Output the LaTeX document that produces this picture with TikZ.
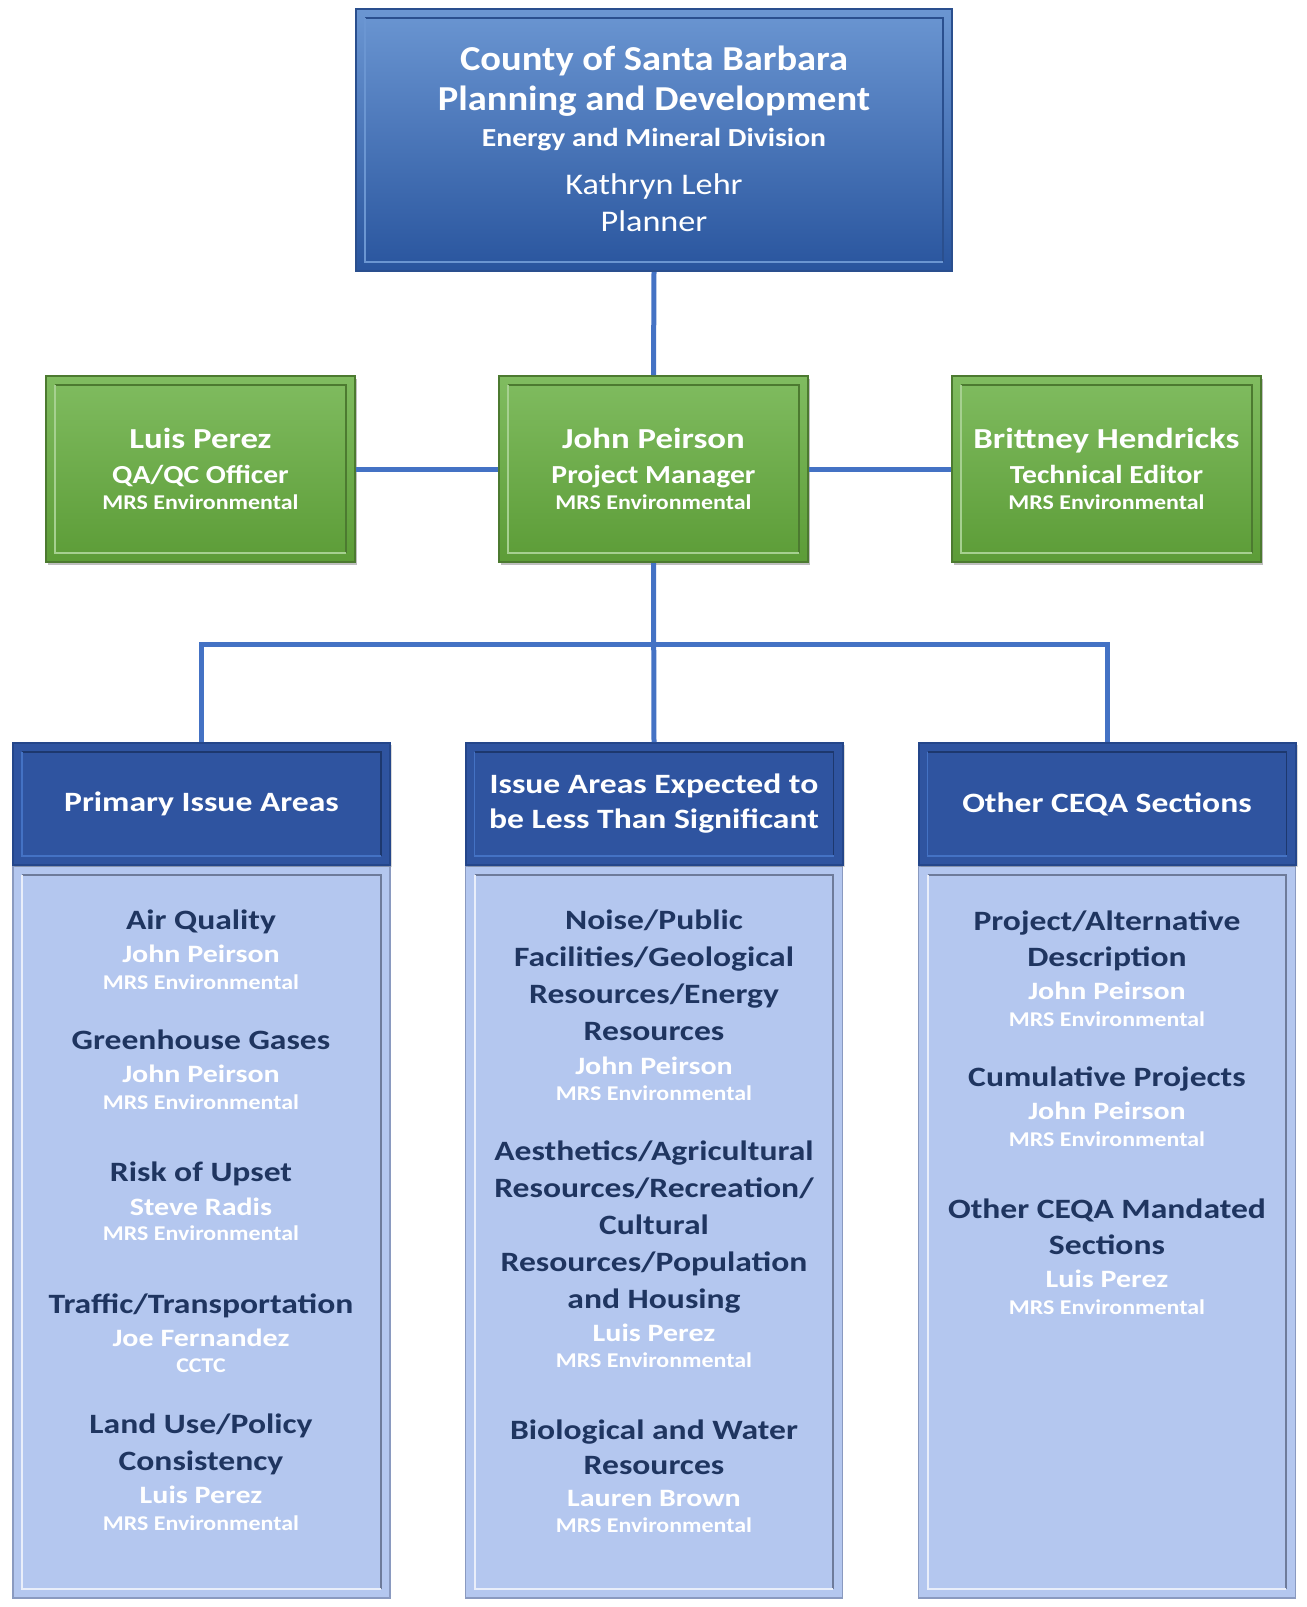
\documentclass[tikz,border=0pt]{standalone}
\usepackage{fontspec}
\setmainfont{Carlito}
\newfontfamily\fontA[FakeStretch=1.1]{Carlito}
\newfontfamily\fontB[FakeStretch=1.14]{Carlito}
\newfontfamily\fontC[FakeStretch=1.2]{Carlito}
\usetikzlibrary{shadows}

\definecolor{linkblue}{HTML}{4472C4}
\definecolor{topA}{HTML}{6B96D2}
\definecolor{topB}{HTML}{29559E}
\definecolor{topedge}{HTML}{2A4F8E}
\definecolor{greenA}{HTML}{80BC60}
\definecolor{greenB}{HTML}{5C9C37}
\definecolor{greenedge}{HTML}{4C7A30}
\definecolor{headblue}{HTML}{2F54A0}
\definecolor{headedge}{HTML}{24468A}
\definecolor{bodyblue}{HTML}{B4C7EF}
\definecolor{bodyedge}{HTML}{8A9AC0}
\definecolor{navy}{HTML}{1F3560}

% inner frame: dark on top and right, light on left and bottom
\newcommand{\innerbevel}[3]{%
  \draw[#2, line width=0.9pt] ([shift={(-5pt,5pt)}]#1.south east) -- ([shift={(-5pt,-5pt)}]#1.north east) -- ([shift={(5pt,-5pt)}]#1.north west);
  \draw[#3, line width=0.9pt] ([shift={(5pt,-5pt)}]#1.north west) -- ([shift={(5pt,5pt)}]#1.south west) -- ([shift={(-5pt,5pt)}]#1.south east);
}

\begin{document}
\begin{tikzpicture}[x=0.5pt, y=-0.5pt,
    topbox/.style={draw=topedge, line width=1.2pt, top color=topA, bottom color=topB,
      minimum width=298pt, minimum height=131pt, inner sep=0pt},
    staffbox/.style={draw=greenedge, line width=1pt, top color=greenA, bottom color=greenB,
      minimum width=154.5pt, minimum height=93pt, inner sep=0pt,
      drop shadow={shadow xshift=1.2pt, shadow yshift=-1.5pt, opacity=0.5}},
    headbox/.style={draw=headedge, line width=1pt, fill=headblue, minimum width=188.5pt,
      minimum height=61pt, inner sep=0pt, text=white, align=center,
      font=\fontC\fontsize{14}{17.5}\selectfont\bfseries,
      drop shadow={shadow xshift=1pt, shadow yshift=-1pt, opacity=0.3}},
    bodybox/.style={draw=bodyedge, line width=0.8pt, fill=bodyblue, minimum width=188.5pt,
      minimum height=366pt, inner sep=0pt},
    link/.style={draw=linkblue, line width=2.5pt},
    txt/.style={anchor=base, inner sep=0pt, text=white},
    boss/.style={txt, font=\fontA\fontsize{17.5}{21}\selectfont\bfseries},
    division/.style={txt, font=\fontB\fontsize{13}{16}\selectfont\bfseries},
    bossname/.style={txt, font=\fontB\fontsize{15}{18}\selectfont},
    staff/.style={txt, font=\fontC\fontsize{14.5}{17}\selectfont\bfseries},
    role/.style={txt, font=\fontB\fontsize{13}{16}\selectfont\bfseries},
    firm/.style={txt, font=\fontB\fontsize{10.5}{13}\selectfont\bfseries},
    area/.style={txt, text=navy, font=\fontC\fontsize{14}{17}\selectfont\bfseries},
    who/.style={txt, font=\fontC\fontsize{12.5}{15}\selectfont\bfseries}]
    \useasboundingbox (0,0) rectangle (1307,1607);

    % County box
    \node[topbox] (county) at (654,140) {};
    \innerbevel{county}{topedge}{topA}
    \node[boss] (cty) at (654,70) {County of Santa Barbara};
    \node[boss] (pnd) at (654,110) {Planning and Development};
    \node[division] (emd) at (654,146) {Energy and Mineral Division};
    \node[bossname] (kl) at (654,194) {Kathryn Lehr};
    \node[bossname] (klrole) at (654,231) {Planner};

    % Staff boxes
    \node[staffbox] (qa) at (200.5,469) {};
    \node[staffbox] (pm) at (653.5,469) {};
    \node[staffbox] (editor) at (1106.5,469) {};
    \innerbevel{qa}{greenedge}{greenA!70!white}
    \innerbevel{pm}{greenedge}{greenA!70!white}
    \innerbevel{editor}{greenedge}{greenA!70!white}

    \node[staff] (qaName) at (200.5,448) {Luis Perez};
    \node[role] (qaRole) at (200.5,483) {QA/QC Officer};
    \node[firm] (qaFirm) at (200.5,509) {MRS Environmental};
    \node[staff] (pmName) at (653.5,448) {John Peirson};
    \node[role] (pmRole) at (653.5,483) {Project Manager};
    \node[firm] (pmFirm) at (653.5,509) {MRS Environmental};
    \node[staff] (edName) at (1106.5,448) {Brittney Hendricks};
    \node[role] (edRole) at (1106.5,483) {Technical Editor};
    \node[firm] (edFirm) at (1106.5,509) {MRS Environmental};

    % Column bodies, then headers on top
    \node[bodybox] (primaryBody) at (201.5,1232) {};
    \node[bodybox] (lesserBody) at (654,1232) {};
    \node[bodybox] (otherBody) at (1107,1232) {};
    \innerbevel{primaryBody}{bodyedge!80!black}{white!70!bodyblue}
    \innerbevel{lesserBody}{bodyedge!80!black}{white!70!bodyblue}
    \innerbevel{otherBody}{bodyedge!80!black}{white!70!bodyblue}

    \node[headbox] (primary) at (201.5,804) {Primary Issue Areas};
    \node[headbox] (lesser) at (654,804) {Issue Areas Expected to\\be Less Than Significant};
    \node[headbox] (other) at (1107,804) {Other CEQA Sections};
    \innerbevel{primary}{headedge!80!black}{linkblue}
    \innerbevel{lesser}{headedge!80!black}{linkblue}
    \innerbevel{other}{headedge!80!black}{linkblue}

    % Connectors
    \coordinate (bus) at (654,644);
    \draw[link] (county.south) -- (pm.north);
    \draw[link] (qa.east) -- (pm.west);
    \draw[link] (pm.east) -- (editor.west);
    \draw[link] (pm.south) -- (lesser.north);
    \draw[link] (primary.north) |- (bus) -| (other.north);

    % Primary issue areas
    \node[area] (aq) at (201,929) {Air Quality};
    \node[who] (aqWho) at (201,962) {John Peirson};
    \node[firm] (aqFirm) at (201,989) {MRS Environmental};
    \node[area] (ghg) at (201,1049) {Greenhouse Gases};
    \node[who] (ghgWho) at (201,1082) {John Peirson};
    \node[firm] (ghgFirm) at (201,1109) {MRS Environmental};
    \node[area] (rou) at (201,1181) {Risk of Upset};
    \node[who] (rouWho) at (201,1215) {Steve Radis};
    \node[firm] (rouFirm) at (201,1240) {MRS Environmental};
    \node[area] (trf) at (201,1313) {Traffic/Transportation};
    \node[who] (trfWho) at (201,1346) {Joe Fernandez};
    \node[firm] (trfFirm) at (201,1372) {CCTC};
    \node[area] (lu) at (201,1433) {Land Use/Policy};
    \node[area] (lu2) at (201,1470) {Consistency};
    \node[who] (luWho) at (201,1503) {Luis Perez};
    \node[firm] (luFirm) at (201,1530) {MRS Environmental};

    % Less than significant areas
    \node[area] (npf) at (654,929) {Noise/Public};
    \node[area] (npf2) at (654,966) {Facilities/Geological};
    \node[area] (npf3) at (654,1003) {Resources/Energy};
    \node[area] (npf4) at (654,1040) {Resources};
    \node[who] (npfWho) at (654,1074) {John Peirson};
    \node[firm] (npfFirm) at (654,1100) {MRS Environmental};
    \node[area] (aes) at (654,1160) {Aesthetics/Agricultural};
    \node[area] (aes2) at (654,1197) {Resources/Recreation/};
    \node[area] (aes3) at (654,1234) {Cultural};
    \node[area] (aes4) at (654,1271) {Resources/Population};
    \node[area] (aes5) at (654,1308) {and Housing};
    \node[who] (aesWho) at (654,1341) {Luis Perez};
    \node[firm] (aesFirm) at (654,1367) {MRS Environmental};
    \node[area] (bio) at (654,1439) {Biological and Water};
    \node[area] (bio2) at (654,1474) {Resources};
    \node[who] (bioWho) at (654,1506) {Lauren Brown};
    \node[firm] (bioFirm) at (654,1532) {MRS Environmental};

    % Other CEQA sections
    \node[area] (pad) at (1107,930) {Project/Alternative};
    \node[area] (pad2) at (1107,966) {Description};
    \node[who] (padWho) at (1107,999) {John Peirson};
    \node[firm] (padFirm) at (1107,1026) {MRS Environmental};
    \node[area] (cum) at (1107,1086) {Cumulative Projects};
    \node[who] (cumWho) at (1107,1119) {John Peirson};
    \node[firm] (cumFirm) at (1107,1146) {MRS Environmental};
    \node[area] (oms) at (1107,1218) {Other CEQA Mandated};
    \node[area] (oms2) at (1107,1254) {Sections};
    \node[who] (omsWho) at (1107,1287) {Luis Perez};
    \node[firm] (omsFirm) at (1107,1314) {MRS Environmental};
\end{tikzpicture}
\end{document}
